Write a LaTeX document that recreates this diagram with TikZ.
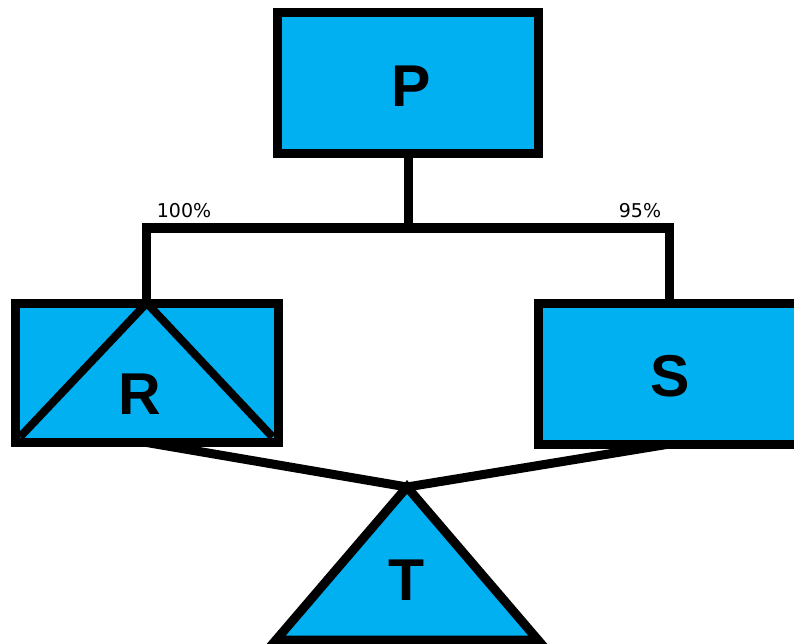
\documentclass[tikz,border=0pt]{standalone}
\usepackage{fontspec}
\setmainfont{DejaVu Sans}
\newfontfamily\bigfont{Liberation Sans}
\usetikzlibrary{calc,backgrounds}
\definecolor{boxblue}{RGB}{0,176,240}
\begin{document}
\begin{tikzpicture}[x=1pt,y=-1pt,
  box/.style={draw=black,fill=boxblue,line width=9pt,rectangle,outer sep=0pt,inner sep=0pt},
  big/.style={inner sep=0pt,font=\bigfont\fontsize{59}{61}\selectfont\bfseries},
  pct/.style={inner sep=0pt,font=\fontsize{19}{21}\selectfont},
  conn/.style={draw=black,line width=9pt,line join=miter},
  tri/.style={draw=black,line width=8pt,line join=miter}]
\useasboundingbox (0,0) rectangle (794,644);
\begin{scope}
\clip (0,0) rectangle (794,644);
% boxes
\node[box,minimum width=260.5pt,minimum height=140.5pt] (P) at (408,83.25) {};
\node[big] (Plabel) at (411,86) {P};
\node[box,minimum width=262.5pt,minimum height=139.5pt] (R) at (146.75,372.75) {};
\draw[tri] ($(R.south west)+(4.5,-5.5)$) -- (R.north) -- ($(R.south east)+(-5.5,-5.5)$);
\node[big] (Rlabel) at (140,394) {R};
\node[box,minimum width=262pt,minimum height=141pt] (S) at (669.5,373.5) {};
\node[big] (Slabel) at (670,376) {S};
% T triangle
\coordinate (Tapex) at (407,487);
\coordinate (Tleft) at (276,640);
\coordinate (Tright) at (538,640);
\draw[tri,fill=boxblue,line width=9pt] (Tapex) -- (Tleft) -- (Tright) -- cycle;
\node[big] (Tlabel) at (407,580) {T};
% labels
\node[pct] (l100) at (184,211) {100\%};
\node[pct] (l95) at (640,211) {95\%};
% connectors
\begin{scope}[on background layer]
\coordinate (Pbar) at (408,228);
\draw[conn] (P.south) -- (Pbar);
\draw[conn] (R.north) |- (Pbar) -| (S.north);
\draw[conn] (R.south) -- (Tapex);
\draw[conn] (S.south) -- (Tapex);
\end{scope}
\end{scope}
\end{tikzpicture}
\end{document}
